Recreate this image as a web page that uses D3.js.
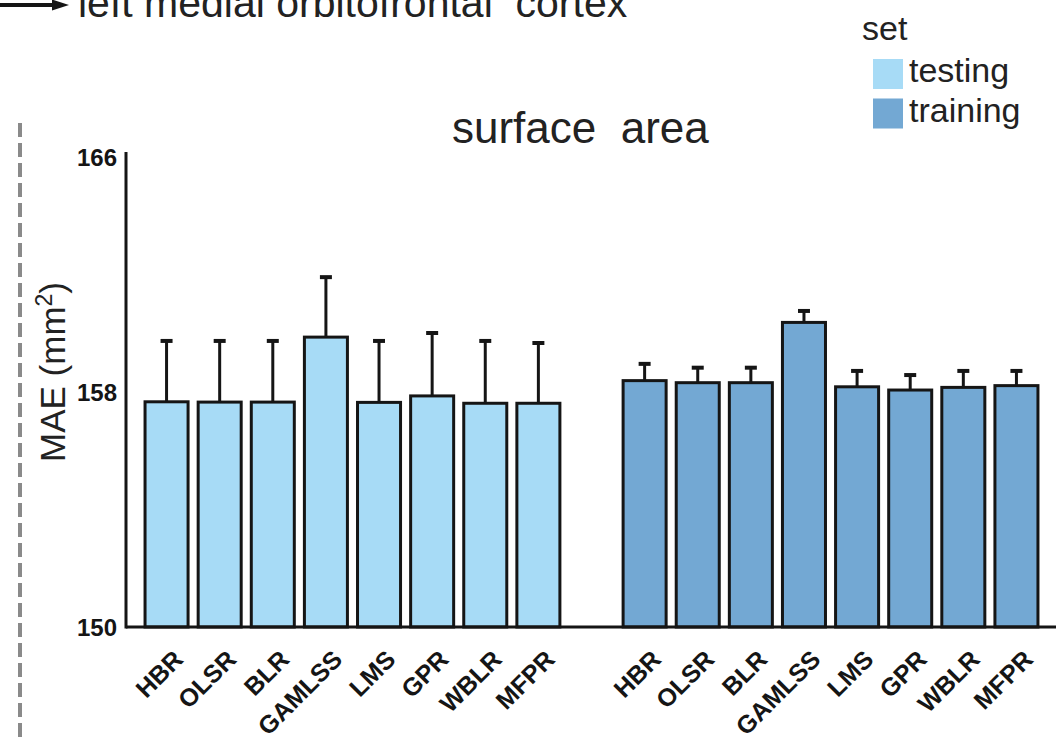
<!DOCTYPE html>
<html>
<head>
<meta charset="utf-8">
<script src="https://cdn.jsdelivr.net/npm/d3@7"></script>
<style>
  html, body { margin: 0; padding: 0; background: #fff; }
  svg { display: block; font-family: "Liberation Sans", Arial, sans-serif; }
</style>
</head>
<body>
<svg id="chart" width="1056" height="743"></svg>
<script>
// Model names, shared by both sets
const models = ["HBR", "OLSR", "BLR", "GAMLSS", "LMS", "GPR", "WBLR", "MFPR"];
const sets = ["testing", "training"];

// Mean absolute error (mm^2) and error-bar half-width per model
const testingMAE = [157.66, 157.65, 157.65, 159.86, 157.64, 157.86, 157.61, 157.61];
const testingErr = [2.07, 2.08, 2.08, 2.04, 2.09, 2.14, 2.12, 2.05];
const trainingMAE = [158.38, 158.31, 158.31, 160.36, 158.17, 158.06, 158.15, 158.21];
const trainingErr = [0.57, 0.51, 0.51, 0.39, 0.54, 0.51, 0.56, 0.50];

const yTicks = [150, 158, 166];

const colors = { testing: "#a7dbf6", training: "#73a8d3" };
const ink = "#151515";

const svg = d3.select("#chart");

// Rows of the bar table: testing group, a spacer slot, training group
const rows = [];
models.forEach((m, i) => rows.push({ key: "testing|" + m, set: "testing", model: m, mae: testingMAE[i], err: testingErr[i] }));
models.forEach((m, i) => rows.push({ key: "training|" + m, set: "training", model: m, mae: trainingMAE[i], err: trainingErr[i] }));
const slots = [...rows.slice(0, 8).map(r => r.key), "spacer", ...rows.slice(8).map(r => r.key)];

const x = d3.scaleBand()
  .domain(slots)
  .range([140, 1043])
  .paddingInner(0.19)
  .paddingOuter(0.095);

const y = d3.scaleLinear().domain([150, 166]).range([627, 156.6]);

// Left-hand dashed divider
svg.append("line")
  .attr("x1", 20).attr("x2", 20).attr("y1", 123).attr("y2", 743)
  .attr("stroke", "#8a8a8a").attr("stroke-width", 4)
  .attr("stroke-dasharray", "14 6");

// Region heading with arrow
svg.append("line")
  .attr("x1", 0).attr("x2", 55).attr("y1", 5).attr("y2", 5)
  .attr("stroke", ink).attr("stroke-width", 4);
svg.append("path")
  .attr("d", "M52,-0.5 L69,5 L52,10.5 Z")
  .attr("fill", ink);
svg.append("text")
  .attr("x", 78).attr("y", 17)
  .attr("font-size", 41)
  .attr("fill", "#222")
  .style("white-space", "pre")
  .text("left medial orbitofrontal  cortex");

// Panel title
svg.append("text")
  .attr("x", 452).attr("y", 143)
  .attr("font-size", 44)
  .attr("fill", "#222")
  .style("white-space", "pre")
  .text("surface  area");

// Bars
const g = svg.append("g");
g.selectAll("rect.bar")
  .data(rows)
  .join("rect")
  .attr("class", "bar")
  .attr("x", d => x(d.key))
  .attr("width", x.bandwidth())
  .attr("y", d => y(d.mae))
  .attr("height", d => y(150) - y(d.mae))
  .attr("fill", d => colors[d.set])
  .attr("stroke", ink)
  .attr("stroke-width", 3);

// Upper error bars
const eb = g.selectAll("g.err").data(rows).join("g").attr("class", "err");
eb.append("line")
  .attr("x1", d => x(d.key) + x.bandwidth() / 2)
  .attr("x2", d => x(d.key) + x.bandwidth() / 2)
  .attr("y1", d => y(d.mae))
  .attr("y2", d => y(d.mae + d.err))
  .attr("stroke", ink).attr("stroke-width", 3);
eb.append("line")
  .attr("x1", d => x(d.key) + x.bandwidth() / 2 - 6)
  .attr("x2", d => x(d.key) + x.bandwidth() / 2 + 6)
  .attr("y1", d => y(d.mae + d.err))
  .attr("y2", d => y(d.mae + d.err))
  .attr("stroke", ink).attr("stroke-width", 4);

// Axis lines
svg.append("line")
  .attr("x1", 126).attr("x2", 1056).attr("y1", y(150)).attr("y2", y(150))
  .attr("stroke", ink).attr("stroke-width", 3);
svg.append("line")
  .attr("x1", 126).attr("x2", 126).attr("y1", 152).attr("y2", y(150) + 1.5)
  .attr("stroke", ink).attr("stroke-width", 3);

// Y axis ticks
const yAxis = svg.append("g")
  .attr("transform", "translate(126,0)")
  .call(d3.axisLeft(y).tickValues(yTicks).tickSize(0).tickPadding(9).tickFormat(d3.format("d")));
yAxis.select(".domain").remove();
yAxis.selectAll("text")
  .attr("font-size", 24)
  .attr("font-weight", "bold")
  .attr("font-family", "Liberation Sans, Arial, sans-serif")
  .attr("fill", ink)
  .attr("dy", "0.36em");

// X axis model labels
const xAxis = svg.append("g")
  .attr("transform", `translate(0,${y(150)})`)
  .call(d3.axisBottom(x)
    .tickValues(rows.map(r => r.key))
    .tickSize(0)
    .tickFormat(k => k.split("|")[1]));
xAxis.select(".domain").remove();
xAxis.selectAll("text")
  .attr("x", 0).attr("y", 0).attr("dy", 0)
  .attr("text-anchor", "end")
  .attr("transform", "translate(18,34) rotate(-45)")
  .attr("font-size", 25)
  .attr("font-weight", "bold")
  .attr("font-family", "Liberation Sans, Arial, sans-serif")
  .attr("fill", ink);

// Y axis title
const yt = svg.append("text")
  .attr("transform", "translate(65,372) rotate(-90)")
  .attr("text-anchor", "middle")
  .attr("font-size", 35)
  .attr("fill", "#222");
yt.append("tspan").text("MAE (mm");
yt.append("tspan").attr("font-size", 23).attr("dy", -13).text("2");
yt.append("tspan").attr("dy", 13).text(")");

// Legend
const legend = svg.append("g");
legend.append("text")
  .attr("x", 862).attr("y", 40)
  .attr("font-size", 34).attr("fill", "#222")
  .text("set");
const li = legend.selectAll("g.item").data(sets).join("g")
  .attr("class", "item")
  .attr("transform", (d, i) => `translate(873,${59 + i * 39.5})`);
li.append("rect")
  .attr("width", 30).attr("height", 30)
  .attr("fill", d => colors[d]);
li.append("text")
  .attr("x", 36).attr("y", 23)
  .attr("font-size", 34).attr("fill", "#222")
  .text(d => d);
</script>
</body>
</html>
